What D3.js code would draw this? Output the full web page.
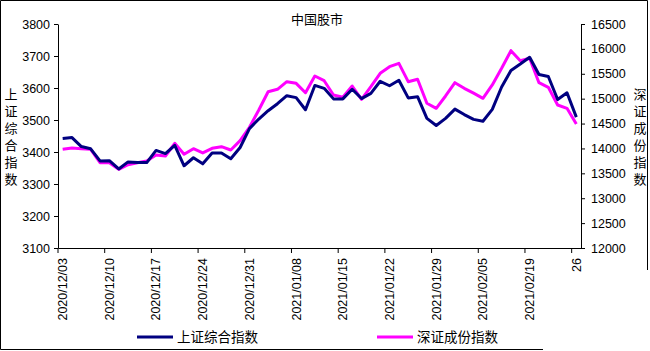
<!DOCTYPE html>
<html>
<head>
<meta charset="utf-8">
<script src="https://cdn.jsdelivr.net/npm/d3@7"></script>
<style>
  html, body { margin: 0; padding: 0; background: #fff; }
  svg text { font-family: "Liberation Sans", "Noto Sans CJK SC", sans-serif; fill: #000; }
  .cjk { font-family: "Noto Sans CJK SC", sans-serif; }
</style>
</head>
<body>
<div id="chart"></div>
<script>
// trading days 2020/12/03 .. 2021/02/26
const dates = [
  "2020/12/03","2020/12/04","2020/12/07","2020/12/08","2020/12/09","2020/12/10","2020/12/11",
  "2020/12/14","2020/12/15","2020/12/16","2020/12/17","2020/12/18","2020/12/21","2020/12/22",
  "2020/12/23","2020/12/24","2020/12/25","2020/12/28","2020/12/29","2020/12/30","2020/12/31",
  "2021/01/04","2021/01/05","2021/01/06","2021/01/07","2021/01/08","2021/01/11","2021/01/12",
  "2021/01/13","2021/01/14","2021/01/15","2021/01/18","2021/01/19","2021/01/20","2021/01/21",
  "2021/01/22","2021/01/25","2021/01/26","2021/01/27","2021/01/28","2021/01/29","2021/02/01",
  "2021/02/02","2021/02/03","2021/02/04","2021/02/05","2021/02/08","2021/02/09","2021/02/10",
  "2021/02/18","2021/02/19","2021/02/22","2021/02/23","2021/02/24","2021/02/25","2021/02/26"
];
// labels shown every 5th category (last one is clipped in the original)
const tickLabels = {
  "2020/12/03":"2020/12/03","2020/12/10":"2020/12/10","2020/12/17":"2020/12/17",
  "2020/12/24":"2020/12/24","2020/12/31":"2020/12/31","2021/01/08":"2021/01/08",
  "2021/01/15":"2021/01/15","2021/01/22":"2021/01/22","2021/01/29":"2021/01/29",
  "2021/02/05":"2021/02/05","2021/02/19":"2021/02/19","2021/02/26":"26"
};
const shIndex = [
  3442,3445,3417,3410,3372,3373,3347,3369,3367,3367,3405,3395,3421,3357,
  3382,3363,3397,3397,3379,3414,3473,3503,3529,3551,3576,3570,3532,3608,
  3599,3566,3566,3596,3567,3583,3621,3607,3624,3569,3573,3505,3483,3505,
  3534,3517,3502,3496,3533,3603,3655,3675,3696,3642,3636,3564,3585,3509
];
const szIndex = [
  13983,14009,13995,13983,13714,13714,13580,13674,13714,13748,13868,13848,14103,13882,
  13995,13910,14003,14036,13969,14156,14425,14772,15140,15188,15341,15308,15120,15455,
  15361,15074,15030,15254,14987,15240,15510,15642,15710,15341,15389,14907,14806,15054,
  15321,15208,15110,15007,15275,15610,15964,15763,15811,15321,15228,14873,14806,14491
];
const leftTicks  = d3.range(3100, 3801, 100);
const rightTicks = d3.range(12000, 16501, 500);
const seriesNames = ["上证综合指数", "深证成份指数"];
const colors = ["#000080", "#ff00ff"];

const width = 650, height = 351;
const plot = { left: 58, right: 581, top: 24, bottom: 248 };

const svg = d3.select("#chart").append("svg")
  .attr("width", width).attr("height", height);

// outer frame (bottom and right edges are only partly drawn in the original)
svg.append("path")
  .attr("fill", "none").attr("stroke", "#000").attr("stroke-width", 1)
  .attr("d", `M0.5,349.5 V0.5 H647.5 V270 M0.5,349.5 H543`);

const x = d3.scaleBand().domain(dates).range([plot.left, plot.right]).padding(0);
const yL = d3.scaleLinear().domain([3100, 3800]).range([plot.bottom, plot.top]);
const yR = d3.scaleLinear().domain([12000, 16500]).range([plot.bottom, plot.top]);
const bw = x.bandwidth();
const fmt = d3.format("d");

// ---------- axes ----------
const axL = svg.append("g")
  .attr("transform", `translate(${plot.left},0)`)
  .call(d3.axisLeft(yL).tickValues(leftTicks).tickFormat(fmt)
    .tickSize(4).tickSizeOuter(0).tickPadding(4));
const axR = svg.append("g")
  .attr("transform", `translate(${plot.right},0)`)
  .call(d3.axisRight(yR).tickValues(rightTicks).tickFormat(fmt)
    .tickSize(4).tickSizeOuter(0).tickPadding(6));
const axX = svg.append("g")
  .attr("transform", `translate(0,${plot.bottom})`)
  .call(d3.axisBottom(x).tickValues(dates.filter((d, i) => i % 5 === 0))
    .tickFormat(d => tickLabels[d]).tickSize(5).tickSizeOuter(0));

[axL, axR, axX].forEach(a => {
  a.select(".domain").attr("stroke", "#000");
  a.selectAll(".tick line").attr("stroke", "#000");
  a.selectAll("text").style("font-size", "12.5px").attr("fill", "#000");
});
// ticks sit on category boundaries, labels on the category centre
axX.selectAll(".tick line").attr("x1", -bw / 2).attr("x2", -bw / 2);
axX.selectAll(".tick text")
  .attr("transform", "rotate(-90)")
  .attr("x", -10).attr("y", 0).attr("dy", "0.35em")
  .attr("text-anchor", "end");

// ---------- lines ----------
const lineL = d3.line().x((d, i) => x(dates[i]) + bw / 2).y(d => yL(d));
const lineR = d3.line().x((d, i) => x(dates[i]) + bw / 2).y(d => yR(d));

svg.append("path").datum(szIndex)
  .attr("fill", "none").attr("stroke", colors[1]).attr("stroke-width", 3)
  .attr("stroke-linejoin", "round").attr("d", lineR);
svg.append("path").datum(shIndex)
  .attr("fill", "none").attr("stroke", colors[0]).attr("stroke-width", 3)
  .attr("stroke-linejoin", "round").attr("d", lineL);

// ---------- titles ----------
svg.append("text").attr("class", "cjk")
  .attr("x", 317).attr("y", 24).attr("text-anchor", "middle")
  .style("font-size", "13px").text("中国股市");

// vertical axis titles (stacked characters)
function vTitle(label, cx, top) {
  svg.append("text").attr("class", "cjk")
    .attr("x", cx).attr("y", top)
    .style("writing-mode", "vertical-rl")
    .style("font-size", "13px")
    .style("letter-spacing", "4px")
    .text(label);
}
vTitle(seriesNames[0], 11, 88);
vTitle(seriesNames[1], 640, 88);

// ---------- legend ----------
const legend = svg.append("g");
const legX = [137, 377];
seriesNames.forEach((name, i) => {
  legend.append("line")
    .attr("x1", legX[i]).attr("x2", legX[i] + 36)
    .attr("y1", 337).attr("y2", 337)
    .attr("stroke", colors[i]).attr("stroke-width", 3);
  legend.append("text").attr("class", "cjk")
    .attr("x", legX[i] + 40).attr("y", 337).attr("dy", "0.35em")
    .style("font-size", "13.5px").text(name);
});
</script>
</body>
</html>
